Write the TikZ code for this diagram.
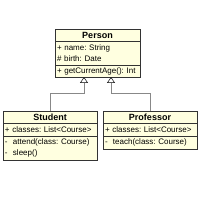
\documentclass[tikz,border=0pt]{standalone}
\usepackage{fontspec}
\setmainfont{Liberation Sans}
\usetikzlibrary{arrows.meta}
\definecolor{boxfill}{HTML}{FFFFE0}
\definecolor{boxline}{HTML}{333333}
\definecolor{conn}{HTML}{888888}
\tikzset{
  part/.style={draw=boxline, fill=boxfill, line width=0.6pt, inner xsep=2pt, inner ysep=0pt, outer sep=0pt, anchor=north west},
  ctitle/.style={part, font=\fontsize{9}{10}\selectfont\bfseries, align=center, minimum height=12pt},
  cbody/.style={part, font=\fontsize{8}{11}\selectfont\frenchspacing, align=left},
  gen/.style={draw=conn, line width=0.6pt, -{Triangle[length=6pt,width=8pt,fill=white,color=black,line width=0.5pt]}}
}
\begin{document}
\begin{tikzpicture}[x=1pt,y=1pt]
\useasboundingbox (0,0) rectangle (200,-200);
% Person
\node[ctitle, minimum width=85pt] (ptitle) at (55,-29) {Person};
\node[cbody, text width=81pt, minimum height=24pt] (pattr) at (ptitle.south west) {\mbox{+ name: String}\\\mbox{\# birth: Date}};
\node[cbody, text width=81pt, minimum height=12pt] (pmeth) at (pattr.south west) {\mbox{+ getCurrentAge(): Int}};
% Student
\node[ctitle, minimum width=94pt] (stitle) at (3,-111) {Student};
\node[cbody, text width=90pt, minimum height=13pt] (sattr) at (stitle.south west) {\mbox{+ classes: List<Course>}};
\node[cbody, text width=90pt, minimum height=24pt] (smeth) at (sattr.south west) {\mbox{-~~attend(class: Course)}\\\mbox{-~~sleep()}};
% Professor
\node[ctitle, minimum width=94pt] (ftitle) at (103,-111) {Professor};
\node[cbody, text width=90pt, minimum height=13pt] (fattr) at (ftitle.south west) {\mbox{+ classes: List<Course>}};
\node[cbody, text width=90pt, minimum height=13pt] (fmeth) at (fattr.south west) {\mbox{-~~teach(class: Course)}};
% connectors
\coordinate (pin1) at ([xshift=-13.5pt]pmeth.south);
\coordinate (pin2) at ([xshift=13.5pt]pmeth.south);
\coordinate (j) at (0,-93);
\draw[gen] (stitle.north) -- (stitle.north |- j) -| (pin1);
\draw[gen] (ftitle.north) -- (ftitle.north |- j) -| (pin2);
\end{tikzpicture}
\end{document}
